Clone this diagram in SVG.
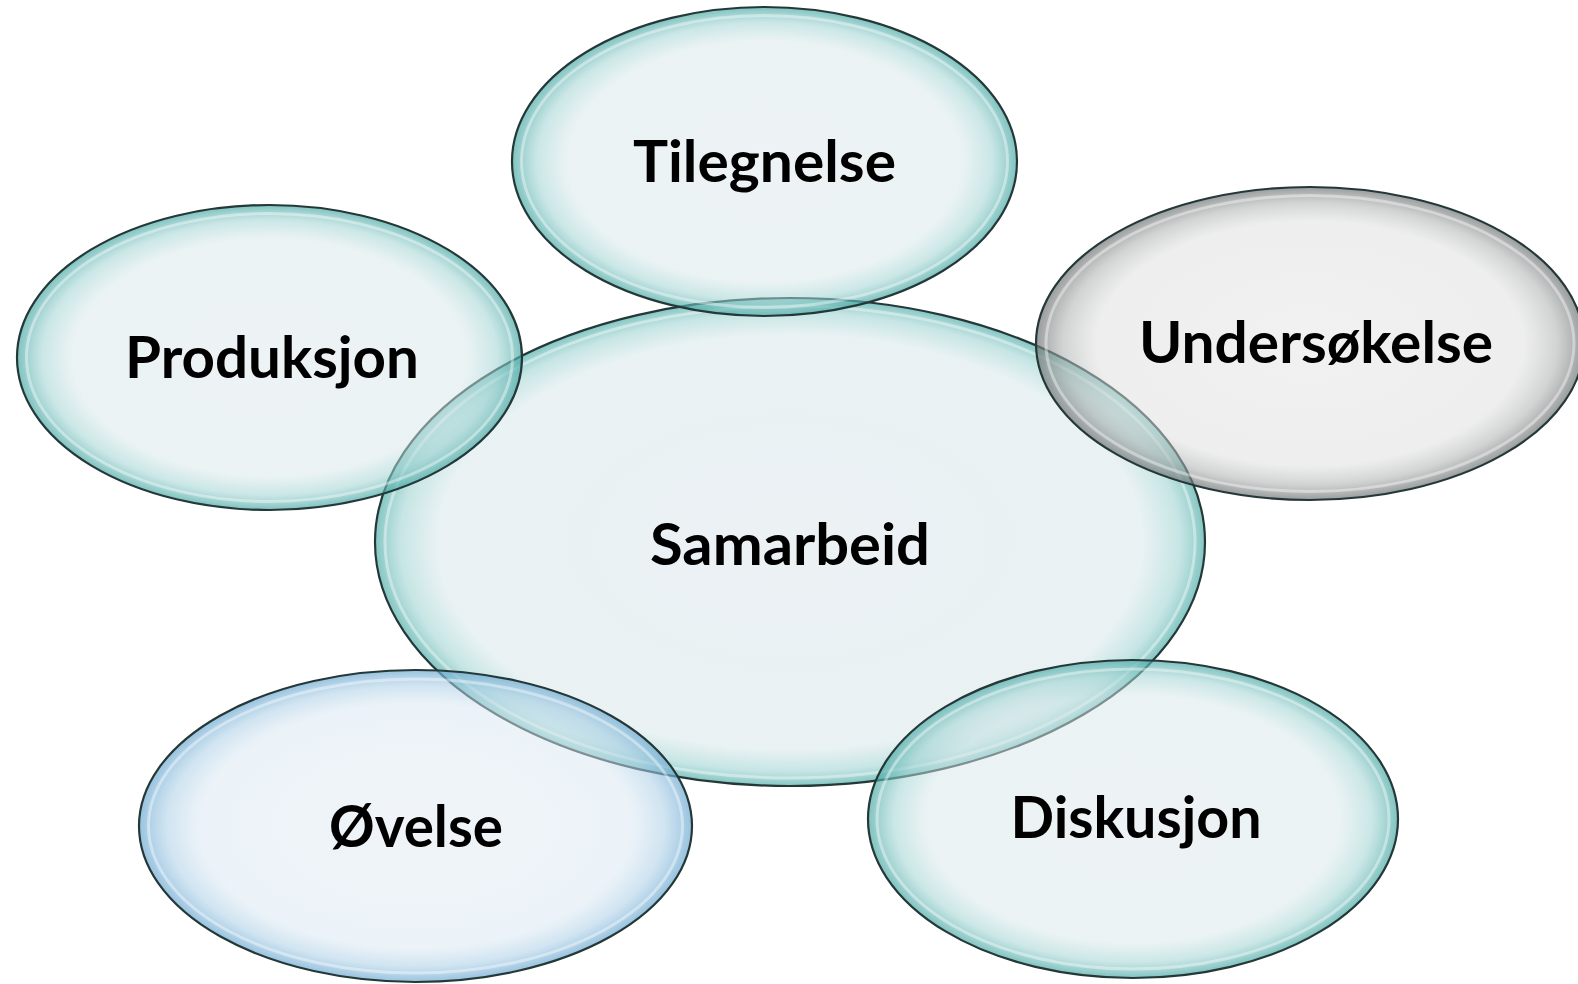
<svg xmlns="http://www.w3.org/2000/svg" width="1578" height="984" viewBox="0 0 1578 984">
<style>
.bub{stroke:#253838;stroke-width:2.2}
.rim{fill:none;stroke:#ffffff;stroke-width:3;stroke-opacity:0.4}
.lbl{font-family:"Lato","Open Sans","Liberation Sans",sans-serif;font-weight:bold;font-size:58px;fill:#000;text-anchor:middle}
</style>
<defs>
<radialGradient id="gTeal" cx="0.5" cy="0.5" r="0.5">
<stop offset="0" stop-color="#dde7eb" stop-opacity="0.5"/>
<stop offset="0.78" stop-color="#d6e6e9" stop-opacity="0.5"/>
<stop offset="0.9" stop-color="#a0d3d2" stop-opacity="0.55"/>
<stop offset="1" stop-color="#48a9a5" stop-opacity="0.7"/>
</radialGradient>
<radialGradient id="gCenter" cx="0.5" cy="0.5" r="0.5">
<stop offset="0" stop-color="#d9e3e9" stop-opacity="0.5"/>
<stop offset="0.85" stop-color="#d3e4e8" stop-opacity="0.5"/>
<stop offset="0.94" stop-color="#97d0ce" stop-opacity="0.55"/>
<stop offset="1" stop-color="#4faea9" stop-opacity="0.7"/>
</radialGradient>
<radialGradient id="gGrey" cx="0.5" cy="0.5" r="0.5">
<stop offset="0" stop-color="#e3e3e3" stop-opacity="0.5"/>
<stop offset="0.78" stop-color="#dddddd" stop-opacity="0.5"/>
<stop offset="0.9" stop-color="#adb1b1" stop-opacity="0.55"/>
<stop offset="1" stop-color="#6f7373" stop-opacity="0.7"/>
</radialGradient>
<radialGradient id="gBlue" cx="0.5" cy="0.5" r="0.5">
<stop offset="0" stop-color="#e1e9f1" stop-opacity="0.5"/>
<stop offset="0.78" stop-color="#d9e7f1" stop-opacity="0.5"/>
<stop offset="0.9" stop-color="#aacee6" stop-opacity="0.55"/>
<stop offset="1" stop-color="#6ca9d1" stop-opacity="0.7"/>
</radialGradient>
</defs>
<rect width="1578" height="984" fill="#ffffff"/>
<g id="connectors"></g>
<g id="node-samarbeid">
<ellipse class="bub" cx="790" cy="542" rx="415" ry="244" fill="url(#gCenter)"/>
<ellipse class="rim" cx="790" cy="542" rx="405" ry="236"/>
<text class="lbl" x="790" y="565" textLength="280" lengthAdjust="spacingAndGlyphs">Samarbeid</text>
</g>
<g id="node-tilegnelse">
<ellipse class="bub" cx="764.5" cy="161.5" rx="252.5" ry="154.5" fill="url(#gTeal)"/>
<ellipse class="rim" cx="764.5" cy="161.5" rx="243" ry="146"/>
<text class="lbl" x="764.5" y="182" textLength="263" lengthAdjust="spacingAndGlyphs">Tilegnelse</text>
</g>
<g id="node-produksjon">
<ellipse class="bub" cx="269.5" cy="357.5" rx="252.5" ry="152.5" fill="url(#gTeal)"/>
<ellipse class="rim" cx="269.5" cy="357.5" rx="243" ry="144"/>
<text class="lbl" x="272" y="378" textLength="294" lengthAdjust="spacingAndGlyphs">Produksjon</text>
</g>
<g id="node-undersokelse">
<ellipse class="bub" cx="1310" cy="343.5" rx="274" ry="156.5" fill="url(#gGrey)" stroke="#2e3232"/>
<ellipse class="rim" cx="1310" cy="343.5" rx="264" ry="148"/>
<text class="lbl" x="1316" y="363" textLength="354" lengthAdjust="spacingAndGlyphs">Undersøkelse</text>
</g>
<g id="node-ovelse">
<ellipse class="bub" cx="415.5" cy="826" rx="276.5" ry="156" fill="url(#gBlue)" stroke="#25343c"/>
<ellipse class="rim" cx="415.5" cy="826" rx="267" ry="147"/>
<text class="lbl" x="416" y="847" textLength="174" lengthAdjust="spacingAndGlyphs">Øvelse</text>
</g>
<g id="node-diskusjon">
<ellipse class="bub" cx="1133" cy="819" rx="265" ry="159" fill="url(#gTeal)"/>
<ellipse class="rim" cx="1133" cy="819" rx="256" ry="150"/>
<text class="lbl" x="1136" y="838" textLength="251" lengthAdjust="spacingAndGlyphs">Diskusjon</text>
</g>
</svg>
